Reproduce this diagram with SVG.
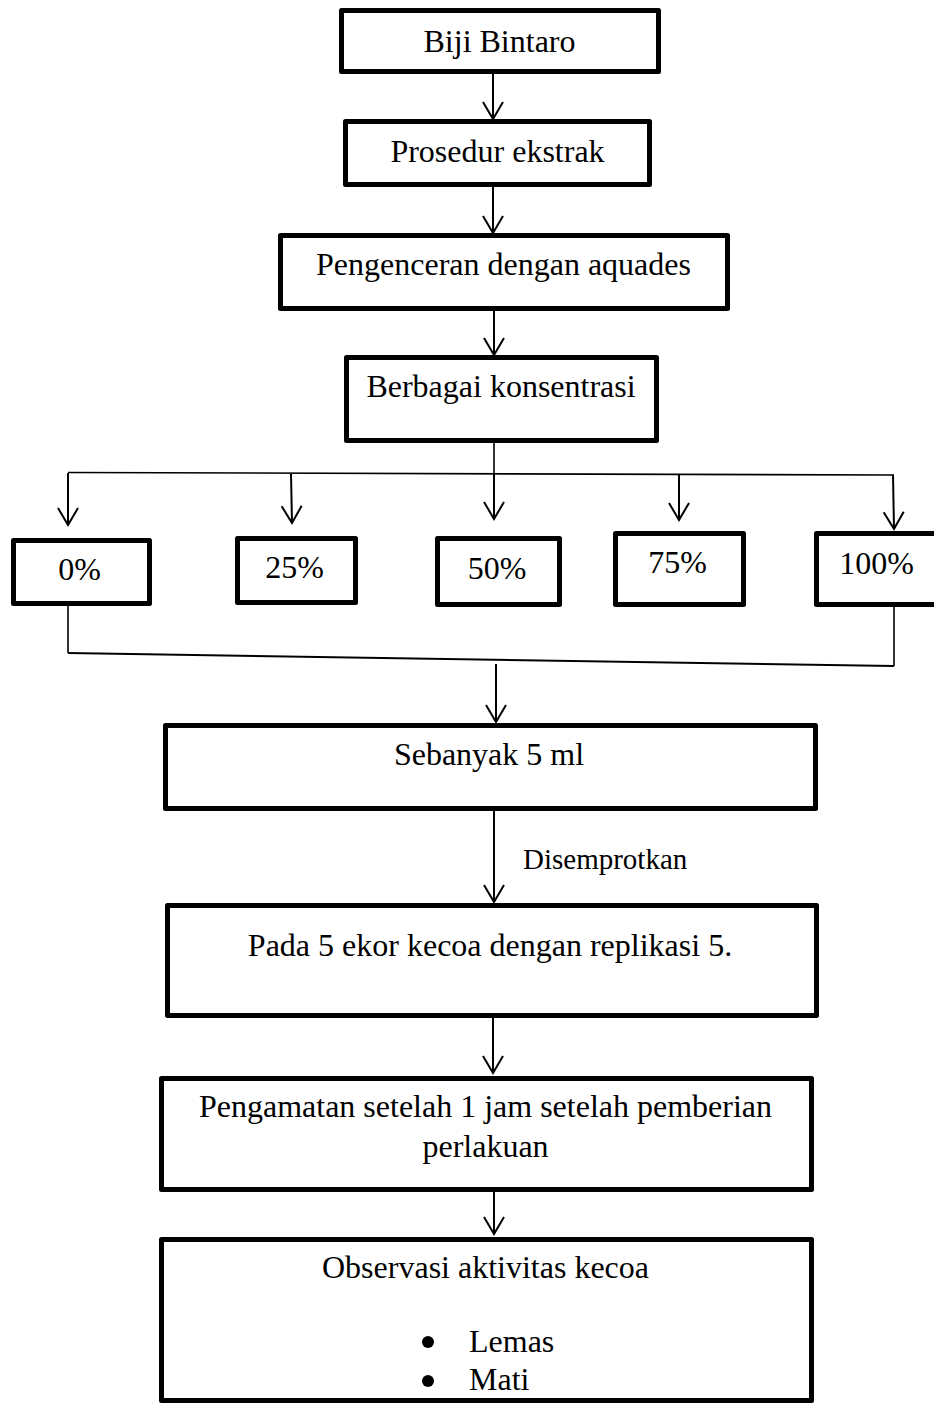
<svg xmlns="http://www.w3.org/2000/svg" width="934" height="1405" viewBox="0 0 934 1405">
<style>
.box{fill:#fff;stroke:#000;stroke-width:5;stroke-linejoin:round}
.t{font-family:"Liberation Serif","Times New Roman",serif;font-size:32px;fill:#000;text-anchor:middle}
.lbl{font-family:"Liberation Serif","Times New Roman",serif;font-size:29px;fill:#000}
.c{fill:none;stroke:#000;stroke-width:2}
.thin{fill:none;stroke:#000;stroke-width:1.6}
</style>
<defs>
<marker id="arr" markerUnits="userSpaceOnUse" viewBox="-20 -12 22 24" refX="0" refY="0" markerWidth="22" markerHeight="24" orient="auto" overflow="visible">
<path d="M-17,-10 L0,0 L-17,10" fill="none" stroke="#000" stroke-width="2"/>
</marker>
</defs>
<rect width="934" height="1405" fill="#fff"/>
<g id="connectors">
<line class="c" x1="493" y1="74" x2="493" y2="119" marker-end="url(#arr)"/>
<line class="c" x1="493" y1="187" x2="493" y2="233" marker-end="url(#arr)"/>
<line class="c" x1="494" y1="311" x2="494" y2="355" marker-end="url(#arr)"/>
<line class="thin" x1="68" y1="472.5" x2="894" y2="475"/>
<line class="c" x1="68" y1="473" x2="68" y2="525" marker-end="url(#arr)"/>
<line class="c" x1="291" y1="474" x2="292" y2="523" marker-end="url(#arr)"/>
<line class="thin" x1="494" y1="437" x2="494" y2="474"/>
<line class="c" x1="494" y1="474" x2="494" y2="519" marker-end="url(#arr)"/>
<line class="c" x1="679" y1="474" x2="679" y2="520" marker-end="url(#arr)"/>
<line class="c" x1="893" y1="475" x2="894" y2="529" marker-end="url(#arr)"/>
<line class="thin" x1="68" y1="606" x2="68" y2="653"/>
<line class="thin" x1="894" y1="607" x2="894" y2="666"/>
<line class="c" x1="68" y1="653" x2="894" y2="666"/>
<line class="c" x1="496" y1="664" x2="496" y2="722" marker-end="url(#arr)"/>
<line class="c" x1="494" y1="811" x2="494" y2="902" marker-end="url(#arr)"/>
<line class="c" x1="493" y1="1018" x2="493" y2="1073" marker-end="url(#arr)"/>
<line class="c" x1="494" y1="1192" x2="494" y2="1234" marker-end="url(#arr)"/>
<text class="lbl" x="523" y="869">Disemprotkan</text>
</g>
<g id="n1"><rect class="box" x="341.5" y="10.5" width="317" height="61"/><text class="t" x="499.5" y="52">Biji Bintaro</text></g>
<g id="n2"><rect class="box" x="345.5" y="121.5" width="304" height="63"/><text class="t" x="497.5" y="162">Prosedur ekstrak</text></g>
<g id="n3"><rect class="box" x="280.5" y="235.5" width="447" height="73"/><text class="t" x="503.5" y="275">Pengenceran dengan aquades</text></g>
<g id="n4"><rect class="box" x="346.5" y="357.5" width="310" height="83"/><text class="t" x="501" y="397">Berbagai konsentrasi</text></g>
<g id="p0"><rect class="box" x="13.5" y="540.5" width="136" height="63"/><text class="t" x="79.5" y="580">0%</text></g>
<g id="p25"><rect class="box" x="237.5" y="538.5" width="118" height="64"/><text class="t" x="294.5" y="578">25%</text></g>
<g id="p50"><rect class="box" x="437.5" y="538.5" width="122" height="66"/><text class="t" x="497" y="579">50%</text></g>
<g id="p75"><rect class="box" x="615.5" y="533.5" width="128" height="71"/><text class="t" x="677.5" y="573">75%</text></g>
<g id="p100"><rect class="box" x="816.5" y="533.5" width="130" height="71"/><text class="t" x="876.5" y="574">100%</text></g>
<g id="n5"><rect class="box" x="165.5" y="725.5" width="650" height="83"/><text class="t" x="489" y="765">Sebanyak 5 ml</text></g>
<g id="n6"><rect class="box" x="167.5" y="905.5" width="649" height="110"/><text class="t" x="490" y="956">Pada 5 ekor kecoa dengan replikasi 5.</text></g>
<g id="n7"><rect class="box" x="161.5" y="1078.5" width="650" height="111"/><text class="t" x="485.5" y="1117">Pengamatan setelah 1 jam setelah pemberian</text><text class="t" x="485.5" y="1157">perlakuan</text></g>
<g id="n8"><rect class="box" x="161.5" y="1239.5" width="650" height="161"/><text class="t" x="485.5" y="1278">Observasi aktivitas kecoa</text>
<circle cx="428" cy="1342" r="6" fill="#000"/><text class="t" x="469" y="1352" style="text-anchor:start">Lemas</text>
<circle cx="428" cy="1381" r="6" fill="#000"/><text class="t" x="469" y="1390" style="text-anchor:start">Mati</text></g>
</svg>
